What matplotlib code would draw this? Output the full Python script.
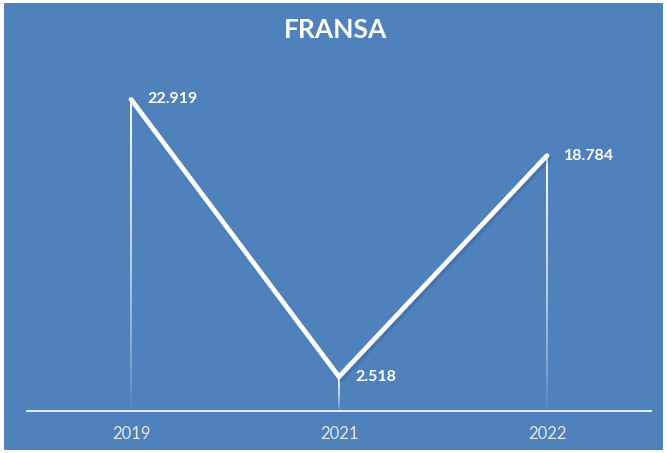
import numpy as np
import matplotlib
matplotlib.use("Agg")
import matplotlib.pyplot as plt
from matplotlib.collections import LineCollection
import matplotlib.patheffects as pe

categories = ["2019", "2021", "2022"]
values = [22.919, 2.518, 18.784]
labels = ["22.919", "2.518", "18.784"]
title = "FRANSA"

BG = "#4F81BD"
fig = plt.figure(figsize=(6.67, 4.53), dpi=100)
fig.patch.set_facecolor("white")
# blue chart area with thin white margin
bg_ax = fig.add_axes([4/667, 3/453, 659/667, 447/453])
bg_ax.set_facecolor(BG)
bg_ax.set_xticks([]); bg_ax.set_yticks([])
for s in bg_ax.spines.values():
    s.set_visible(False)

ax = fig.add_axes([27/667, 42/453, 624/667, 340/453])
ax.set_facecolor("none")
x = np.arange(len(categories))
ax.set_xlim(-0.5, len(categories) - 0.5)
ax.set_ylim(0, 25)

# drop lines with fading gradient
n = 60
for xi, v in zip(x, values):
    ys = np.linspace(0, v, n + 1)
    segs = [[(xi, ys[i]), (xi, ys[i + 1])] for i in range(n)]
    alphas = np.linspace(0.0, 1.0, n) ** 0.7
    cols = [(1, 1, 1, a) for a in alphas]
    ax.add_collection(LineCollection(segs, colors=cols, linewidths=1.4, zorder=2))

ax.plot(x, values, color="white", lw=3.4, solid_capstyle="round",
        solid_joinstyle="miter", zorder=3,
        path_effects=[pe.SimpleLineShadow(offset=(1.5, -2), shadow_color="#1F3F6A", alpha=0.2),
                      pe.Normal()])

for xi, v, lab in zip(x, values, labels):
    ax.annotate(lab, (xi, v), xytext=(12, 0), textcoords="offset points",
                ha="left", va="center", color="white", fontsize=11.5,
                fontweight="bold", family="Lato", zorder=4)

for s in ["top", "right", "left"]:
    ax.spines[s].set_visible(False)
ax.spines["bottom"].set_color("white")
ax.spines["bottom"].set_linewidth(1.2)
ax.set_yticks([])
ax.set_xticks(x)
ax.set_xticklabels(categories, fontsize=12, color="#E8E8E8", family="Lato")
ax.tick_params(axis="x", length=0, pad=11)

fig.text(336/667, 1 - 30/453, title, ha="center", va="center", color="white",
         fontsize=19, fontweight="bold", family="Lato")

fig.savefig("out.png", dpi=100, facecolor=fig.get_facecolor())
